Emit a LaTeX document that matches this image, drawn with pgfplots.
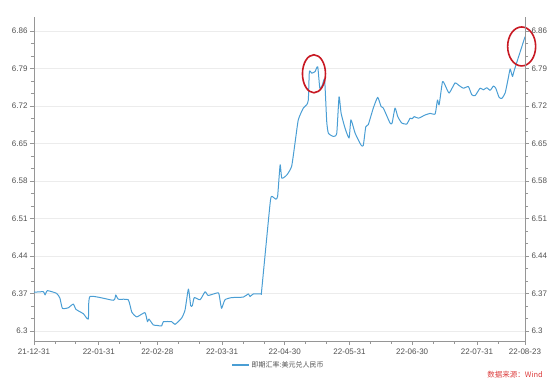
\documentclass[border=0pt]{standalone}
\usepackage{fontspec}
\setmainfont{Liberation Sans}
\newfontfamily\cjk{Noto Sans CJK SC}
\usepackage{pgfplots}
\usepackage{pgfplotstable}
\pgfplotsset{compat=1.18}
\definecolor{lineblue}{RGB}{74,158,212}
\definecolor{axgray}{RGB}{150,150,150}
\definecolor{txtgray}{RGB}{80,80,80}
\definecolor{gridgray}{RGB}{236,236,236}
\definecolor{circred}{RGB}{200,25,35}
\definecolor{srcred}{RGB}{220,60,60}
\pgfplotstableread{
day val
0 6.372
4.5 6.373
5.3 6.367
6.4 6.375
10.8 6.370
12.4 6.361
13.6 6.342
16.4 6.343
18.8 6.350
20.1 6.340
23.6 6.332
26.0 6.322
26.8 6.364
38.0 6.357
39.1 6.367
40.4 6.359
45.1 6.358
46.8 6.335
49.2 6.326
53.1 6.334
54.3 6.317
55.0 6.322
57.1 6.311
59.0 6.310
61.1 6.309
61.9 6.317
65.9 6.317
67.5 6.312
70.7 6.324
72.3 6.339
73.9 6.378
75.0 6.347
75.8 6.347
76.7 6.362
79.5 6.358
81.9 6.373
83.4 6.366
88.2 6.371
89.0 6.358
89.8 6.342
91.4 6.358
94.6 6.362
100.2 6.363
102.6 6.369
103.4 6.364
105.0 6.369
108.7 6.369
109.0 6.377
113.0 6.538
113.8 6.551
115.7 6.546
116.6 6.551
117.8 6.610
118.6 6.585
121.0 6.591
123.3 6.607
124.9 6.650
126.5 6.694
128.9 6.716
130.5 6.722
131.3 6.731
131.8 6.784
132.9 6.781
134.5 6.784
135.8 6.793
136.8 6.753
138.0 6.759
139.1 6.769
140.1 6.691
140.9 6.669
143.3 6.663
144.9 6.669
146.0 6.737
147.0 6.706
148.9 6.678
150.8 6.660
151.7 6.694
153.7 6.669
156.5 6.647
157.6 6.646
158.8 6.681
160.0 6.685
162.4 6.716
164.5 6.736
166.1 6.719
167.2 6.716
170.4 6.688
171.4 6.688
172.8 6.716
174.1 6.700
176.0 6.688
178.4 6.686
180.0 6.697
181.0 6.696
182.0 6.700
184.0 6.697
187.2 6.703
189.6 6.706
192.0 6.705
193.1 6.731
193.9 6.722
195.5 6.765
196.7 6.759
198.7 6.744
201.5 6.763
203.1 6.759
205.5 6.753
207.9 6.756
209.5 6.741
211.1 6.739
213.5 6.753
215.1 6.750
216.7 6.754
218.3 6.749
219.9 6.757
221.0 6.753
222.6 6.736
223.9 6.734
225.5 6.744
227.0 6.772
227.9 6.789
229.0 6.775
229.9 6.787
235.0 6.849
}\usdcny
\begin{document}
\begin{tikzpicture}
\useasboundingbox (-34pt,-46pt) rectangle (524pt,341pt);
\begin{axis}[
  at={(0pt,0pt)}, anchor=south west,
  scale only axis, width=491pt, height=324pt,
  xmin=0, xmax=235, ymin=6.281, ymax=6.886,
  axis x line=bottom, axis y line=left,
  axis line style={axgray, line width=0.6pt, -},
  x axis line style={-}, y axis line style={-},
  xtick={0,31,59,90,120,151,181,212,235},
  xticklabels={21-12-31,22-01-31,22-02-28,22-03-31,22-04-30,22-05-31,22-06-30,22-07-31,22-08-23},
  minor xtick={10,20,41,51,69,79,100,110,130,140,161,171,191,201,222},
  ytick={6.3,6.37,6.44,6.51,6.58,6.65,6.72,6.79,6.86},
  minor y tick num=2,
  tick align=outside,
  major tick length=4pt, minor tick length=3pt,
  tick style={axgray, line width=0.6pt},
  ymajorgrids, grid style={gridgray, line width=0.6pt},
  ticklabel style={font=\fontsize{8}{9.5}\selectfont, text=txtgray},
  /pgf/number format/assume math mode=true,
  yticklabel style={xshift=1pt},
  clip=false,
  legend style={at={(axis description cs:0.498,-0.074)}, anchor=center, draw=none, fill=none,
     font=\cjk\fontsize{7}{8}\selectfont, text=txtgray, inner sep=1pt},
  legend image post style={line width=1.2pt},
  legend cell align=left,
]
\addplot[lineblue, line width=1pt, line join=round, smooth, tension=0.3] table[x=day, y=val] {\usdcny};
\addlegendentry{即期汇率:美元兑人民币}
\draw[circred, line width=1.6pt] (axis cs:134.0,6.780) ellipse [x radius=11.5pt, y radius=19pt];
\draw[circred, line width=1.6pt] (axis cs:233.4,6.831) ellipse [x radius=14pt, y radius=19.5pt];
\node[anchor=east, text=srcred, font=\cjk\fontsize{7.5}{9}\selectfont, inner sep=0pt] at (axis description cs:1.0367,-0.105) {数据来源：Wind};
\end{axis}
\begin{axis}[
  at={(0pt,0pt)}, anchor=south west,
  scale only axis, width=491pt, height=324pt,
  xmin=0, xmax=235, ymin=6.281, ymax=6.886,
  axis y line*=right, axis x line=none,
  axis line style={axgray, line width=0.6pt, -},
  ytick={6.3,6.37,6.44,6.51,6.58,6.65,6.72,6.79,6.86},
  minor y tick num=2,
  tick align=outside,
  major tick length=4pt, minor tick length=3pt,
  tick style={axgray, line width=0.6pt},
  ticklabel style={font=\fontsize{8}{9.5}\selectfont, text=txtgray},
  /pgf/number format/assume math mode=true,
  yticklabel style={xshift=-1pt},
]
\addplot[draw=none, forget plot] coordinates {(0,6.5)};
\end{axis}
\end{tikzpicture}
\end{document}
